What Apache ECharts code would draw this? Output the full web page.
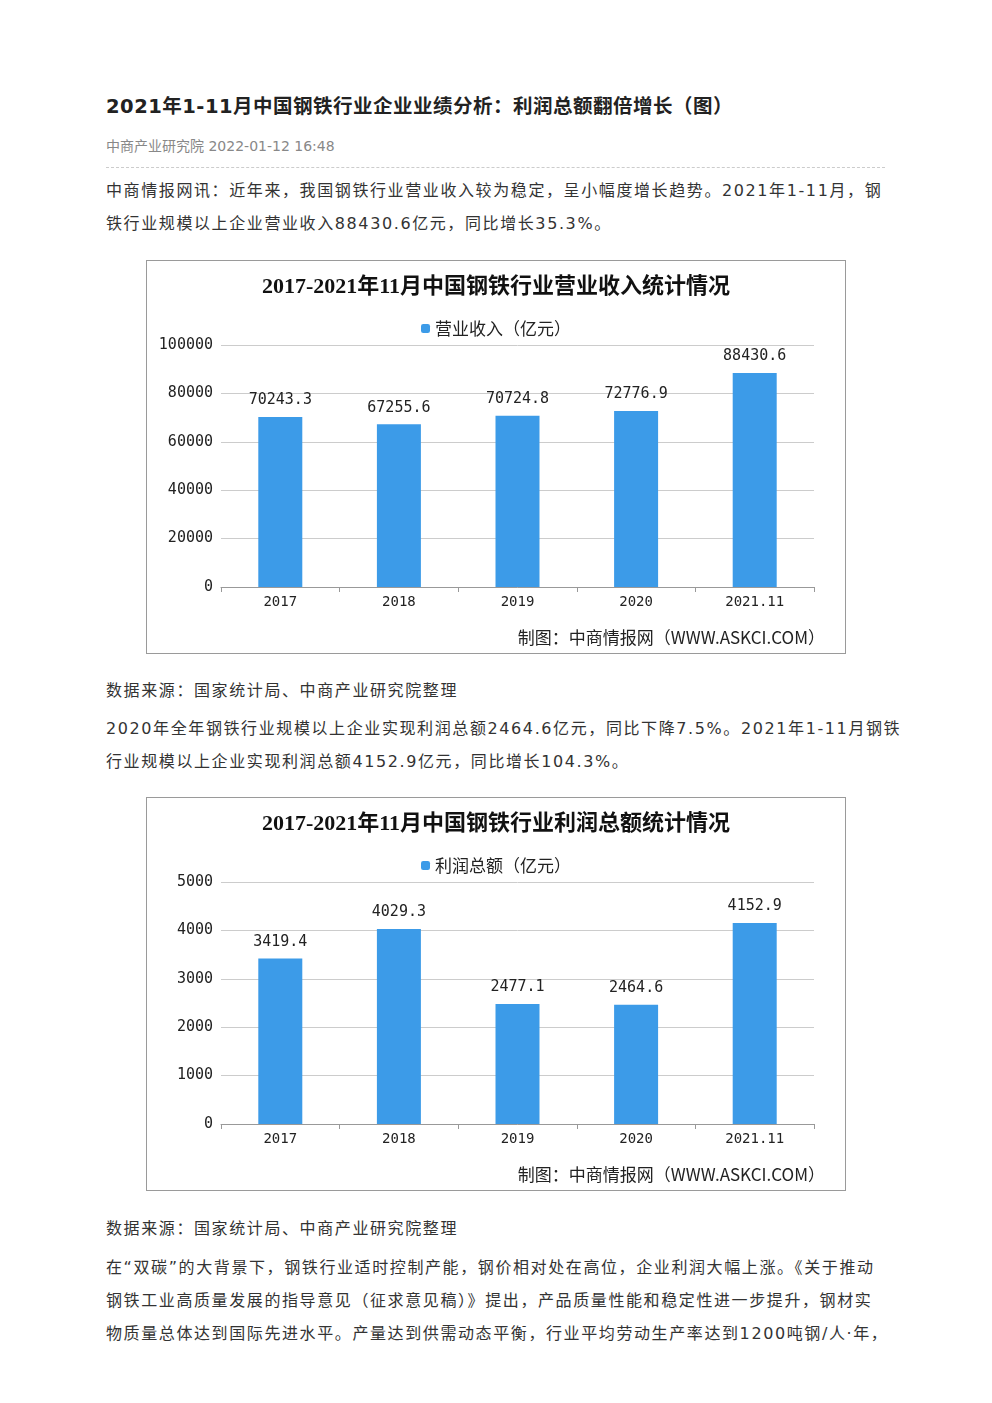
<!DOCTYPE html>
<html><head><meta charset="utf-8">
<script src="https://cdn.jsdelivr.net/npm/echarts@6/dist/echarts.min.js"></script>
<style>
body{margin:0;background:#fff;font-family:"DejaVu Sans","Noto Sans CJK SC",sans-serif;color:#333;}
.t{position:absolute;left:106px;width:785px;font-size:16px;line-height:33px;white-space:nowrap;letter-spacing:1.6px;}
.box{position:absolute;left:146px;width:698px;height:392px;border:1px solid #9a9a9a;}
.foot{position:absolute;right:20px;bottom:4px;font-size:17px;color:#222;font-family:"Noto Sans CJK SC",sans-serif;}
</style></head><body>
<div style="position:absolute;left:106px;top:90px;font-size:19.5px;font-weight:bold;color:#222;letter-spacing:0.5px">2021年1-11月中国钢铁行业企业业绩分析：利润总额翻倍增长（图）</div>
<div style="position:absolute;left:106px;top:135px;font-size:14px;color:#888">中商产业研究院 2022-01-12 16:48</div>
<div style="position:absolute;left:106px;top:167px;width:779px;border-top:1px dashed #ccc"></div>
<div class="t" style="top:174px">中商情报网讯：近年来，我国钢铁行业营业收入较为稳定，呈小幅度增长趋势。2021年1-11月，钢<br>铁行业规模以上企业营业收入88430.6亿元，同比增长35.3%。</div>
<div class="box" style="top:260px"><div id="c1" style="width:698px;height:392px"></div><div class="foot">制图：中商情报网（WWW.ASKCI.COM）</div></div>
<div class="t" style="top:674px">数据来源：国家统计局、中商产业研究院整理</div>
<div class="t" style="top:712px">2020年全年钢铁行业规模以上企业实现利润总额2464.6亿元，同比下降7.5%。2021年1-11月钢铁<br>行业规模以上企业实现利润总额4152.9亿元，同比增长104.3%。</div>
<div class="box" style="top:797px"><div id="c2" style="width:698px;height:392px"></div><div class="foot">制图：中商情报网（WWW.ASKCI.COM）</div></div>
<div class="t" style="top:1212px">数据来源：国家统计局、中商产业研究院整理</div>
<div class="t" style="top:1251px">在“双碳”的大背景下，钢铁行业适时控制产能，钢价相对处在高位，企业利润大幅上涨。《关于推动<br>钢铁工业高质量发展的指导意见（征求意见稿）》提出，产品质量性能和稳定性进一步提升，钢材实<br>物质量总体达到国际先进水平。产量达到供需动态平衡，行业平均劳动生产率达到1200吨钢/人·年，</div>
<script>
var years = ['2017', '2018', '2019', '2020', '2021.11'];
var revenue = [70243.3, 67255.6, 70724.8, 72776.9, 88430.6];
var profit = [3419.4, 4029.3, 2477.1, 2464.6, 4152.9];

function draw(id, title, name, data, max, step) {
	var myChart = echarts.init(document.getElementById(id));
	var mono = '"DejaVu Sans Mono","Noto Sans CJK SC",monospace';
	var option = {
		animation: false,
		title: {
			text: title, left: 'center', top: 10,
			textStyle: {fontSize: 22, fontWeight: 'bold', color: '#111', fontFamily: '"Liberation Serif","Noto Sans CJK SC",serif'}
		},
		legend: {
			data: [name], top: 54, itemWidth: 9, itemHeight: 9, itemGap: 2,
			textStyle: {fontSize: 17, color: '#222', fontFamily: '"Noto Sans CJK SC",sans-serif'}
		},
		grid: {left: 74, right: 31, top: 84, bottom: 66},
		xAxis: {
			type: 'category', data: years,
			axisLine: {lineStyle: {color: '#999'}},
			axisTick: {show: true, lineStyle: {color: '#999'}},
			axisLabel: {color: '#222', fontSize: 14, fontFamily: mono}
		},
		yAxis: {
			type: 'value', min: 0, max: max, interval: step,
			axisLine: {show: false}, axisTick: {show: false},
			axisLabel: {color: '#222', fontSize: 15, fontFamily: mono, formatter: function (v) { return String(v); }},
			splitLine: {lineStyle: {color: '#ccc'}}
		},
		series: [{
			name: name, type: 'bar', data: data, barWidth: 44,
			itemStyle: {color: '#3c9be8'},
			label: {show: true, position: 'top', distance: 9, color: '#222', fontSize: 15, fontFamily: mono}
		}]
	};
	myChart.setOption(option);
}
draw('c1', '2017-2021年11月中国钢铁行业营业收入统计情况', '营业收入（亿元）', revenue, 100000, 20000);
draw('c2', '2017-2021年11月中国钢铁行业利润总额统计情况', '利润总额（亿元）', profit, 5000, 1000);
</script>
</body></html>
